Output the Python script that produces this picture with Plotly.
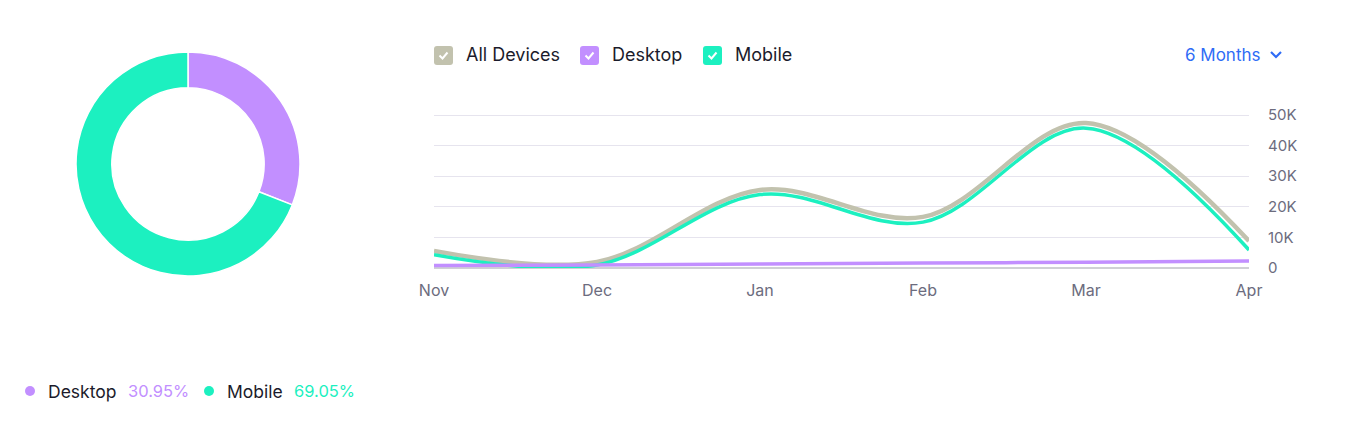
import plotly.graph_objects as go

W, H = 1352, 429
PAD = 8  # page body margin

# data
months = ["Nov", "Dec", "Jan", "Feb", "Mar", "Apr"]
all_devices = [5600, 2000, 25500, 16700, 47400, 8800]
mobile = [4300, 1000, 24000, 15000, 45700, 5900]
desktop = [800, 1000, 1300, 1600, 1900, 2300]

share_labels = ["Desktop", "Mobile"]
share_values = [30.95, 69.05]

ytick_vals = [0, 10000, 20000, 30000, 40000, 50000]
ytick_text = ["0", "10K", "20K", "30K", "40K", "50K"]

grey = "#c2c2ae"
purple = "#c28fff"
teal = "#1cf0c0"
dark = "#1b1b2b"
blue = "#2f6cf6"

FW, FH = W - 2 * PAD, H - 2 * PAD


def px(x):
    return (x - PAD) / FW


def py(y):
    return 1 - (y - PAD) / FH


fig = go.Figure()

fig.add_trace(go.Pie(
    labels=share_labels, values=share_values, hole=0.68, sort=False,
    direction="clockwise", rotation=0, textinfo="none", hoverinfo="label+percent",
    marker=dict(colors=[purple, teal], line=dict(color="white", width=1.5)),
    domain=dict(x=[px(76), px(300)], y=[py(276), py(52)]),
    showlegend=False,
))

for name, vals, col, w in [("All Devices", all_devices, grey, 4.5),
                           ("Mobile", mobile, teal, 3.5),
                           ("Desktop", desktop, purple, 3.5)]:
    fig.add_trace(go.Scatter(
        x=months, y=vals, name=name, mode="lines",
        line=dict(color=col, width=w, shape="spline", smoothing=1),
        showlegend=False,
    ))

fig.update_xaxes(
    domain=[px(434), px(1249)], range=[0, len(months) - 1], automargin=False,
    showgrid=False, zeroline=False, showline=False, ticks="",
    tickfont=dict(family="Inter", size=16, color="#6c6c7e"),
    ticklabelstandoff=11,
)
fig.update_yaxes(
    domain=[py(268), py(113.5)], range=[0, 50500], side="right", automargin=False,
    tickvals=ytick_vals, ticktext=ytick_text,
    showgrid=True, gridcolor="#e6e4ee", gridwidth=1,
    zeroline=True, zerolinecolor="#cfd0d5", zerolinewidth=2,
    showline=False, ticks="",
    tickfont=dict(family="Inter", size=15, color="#6c6c7e"),
    ticklabelstandoff=18,
)

shapes = []
annotations = []

# legend above the line chart (checkboxes)
for x0, label, col in [(434, "All Devices", grey), (580, "Desktop", purple), (703, "Mobile", teal)]:
    x1, y0, y1, r = x0 + 19, 46, 65, 3
    shapes.append(dict(
        type="path", xref="paper", yref="paper", fillcolor=col, line=dict(width=0),
        path=(f"M {px(x0 + r)},{py(y0)} L {px(x1 - r)},{py(y0)} Q {px(x1)},{py(y0)} {px(x1)},{py(y0 + r)} "
              f"L {px(x1)},{py(y1 - r)} Q {px(x1)},{py(y1)} {px(x1 - r)},{py(y1)} "
              f"L {px(x0 + r)},{py(y1)} Q {px(x0)},{py(y1)} {px(x0)},{py(y1 - r)} "
              f"L {px(x0)},{py(y0 + r)} Q {px(x0)},{py(y0)} {px(x0 + r)},{py(y0)} Z"),
    ))
    shapes.append(dict(
        type="path", xref="paper", yref="paper", line=dict(color="white", width=2),
        path=f"M {px(x0 + 5.5)},{py(55.5)} L {px(x0 + 8.5)},{py(58.5)} L {px(x0 + 13.5)},{py(52.5)}",
    ))
    annotations.append(dict(
        text=label, x=px(x0 + 30), y=py(55), xref="paper", yref="paper",
        xanchor="left", yanchor="middle", showarrow=False,
        font=dict(family="Inter", size=18, color=dark),
    ))

# range selector
annotations.append(dict(
    text="6 Months", x=px(1263), y=py(55), xref="paper", yref="paper",
    xanchor="right", yanchor="middle", showarrow=False,
    font=dict(family="Inter", size=17, color=blue),
))
shapes.append(dict(
    type="path", xref="paper", yref="paper", line=dict(color=blue, width=2.2),
    path=f"M {px(1271)},{py(52)} L {px(1276)},{py(57)} L {px(1281)},{py(52)}",
))

# donut legend
for dot_x, val_x, label, val, col in zip([30, 209], [126, 292], share_labels, share_values, [purple, teal]):
    shapes.append(dict(
        type="circle", xref="paper", yref="paper", fillcolor=col, line=dict(width=0),
        x0=px(dot_x - 5), x1=px(dot_x + 5), y0=py(396), y1=py(386),
    ))
    annotations.append(dict(
        text=label, x=px(dot_x + 16), y=py(391), xref="paper", yref="paper",
        xanchor="left", yanchor="middle", showarrow=False,
        font=dict(family="Inter", size=17.5, color=dark),
    ))
    annotations.append(dict(
        text=f"{val:.2f}%", x=px(val_x), y=py(391), xref="paper", yref="paper",
        xanchor="left", yanchor="middle", showarrow=False,
        font=dict(family="Inter", size=16.5, color=col),
    ))

fig.update_layout(
    width=FW, height=FH, margin=dict(l=0, r=0, t=0, b=0),
    paper_bgcolor="white", plot_bgcolor="white",
    shapes=shapes, annotations=annotations,
)

fig.write_html("out.html")
